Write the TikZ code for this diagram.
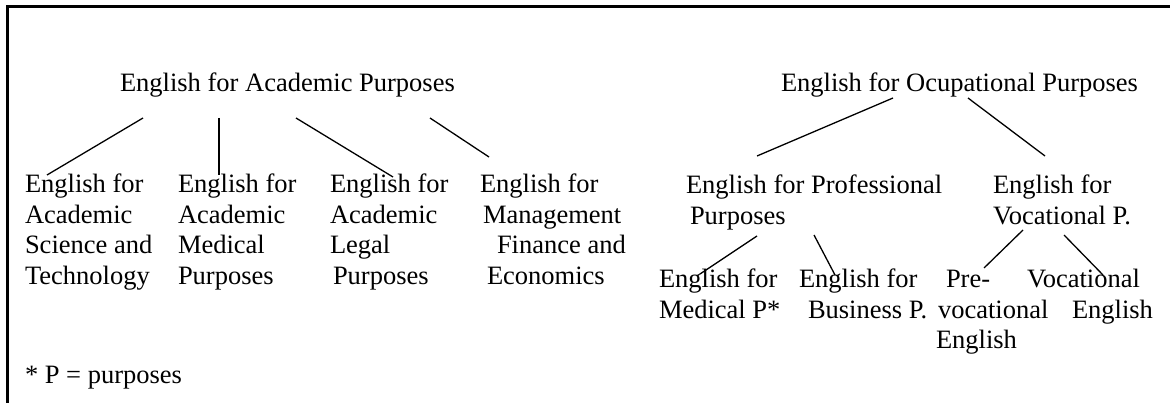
\documentclass[tikz,border=0pt]{standalone}
\usepackage{fontspec}
\setmainfont{Liberation Serif}
\newcommand\mytab[1]{\begin{tabular}[t]{@{}l@{}}#1\end{tabular}}
\begin{document}
\begin{tikzpicture}[x=1pt,y=-1pt,
  lbl/.style={anchor=base west, inner sep=0pt, outer sep=0pt, font=\fontsize{26.5}{30.5}\selectfont},
  link/.style={line width=1.3pt, line cap=butt}]
\useasboundingbox (0,0) rectangle (1170,403);
% frame
\draw[line width=2.2pt, line join=miter] (7.5,403) -- (7.5,6.5) -- (1170,6.5);
% nodes
\node[lbl] (eap) at (120,92) {English for Academic Purposes};
\node[lbl] (eop) at (781,92) {English for Ocupational Purposes};
\node[lbl] (c1) at (25,193) {\mytab{English for\\Academic\\Science and\\Technology}};
\node[lbl] (c2) at (178,193) {\mytab{English for\\Academic\\Medical\\Purposes}};
\node[lbl] (c3) at (330,193) {\mytab{English for\\Academic\\Legal\\\hspace*{3pt}Purposes}};
\node[lbl] (c4) at (480,193) {\mytab{English for\\\hspace*{3pt}Management\\\hspace*{17pt}Finance and\\\hspace*{7pt}Economics}};
\node[lbl] (prof) at (686,194) {\mytab{English for Professional\\\hspace*{4pt}Purposes}};
\node[lbl] (voc) at (993,194) {\mytab{English for\\Vocational P.}};
\node[lbl] (med) at (659,288) {\mytab{English for\\Medical P*}};
\node[lbl] (bus) at (799,288) {\mytab{English for\\\hspace*{9pt}Business P.}};
\node[lbl] (pre) at (936,288) {\mytab{\hspace*{10pt}Pre-\\\hspace*{2pt}vocational\\English}};
\node[lbl] (voce) at (1027,288) {\mytab{Vocational\\\hspace*{45pt}English}};
\node[lbl] (note) at (25,383) {* P = purposes};
% connectors
\draw[link] ([shift={(23,26)}]eap.base west) -- ([shift={(22,-18)}]c1.base west);
\draw[link] ([shift={(99,26)}]eap.base west) -- ([shift={(41,-18)}]c2.base west);
\draw[link] ([shift={(176,26)}]eap.base west) -- ([shift={(63,-16)}]c3.base west);
\draw[link] ([shift={(310,26)}]eap.base west) -- ([shift={(9,-36)}]c4.base west);
\draw[link] ([shift={(112,6)}]eop.base west) -- ([shift={(71,-38)}]prof.base west);
\draw[link] ([shift={(187,6)}]eop.base west) -- ([shift={(52,-38)}]voc.base west);
\draw[link] ([shift={(71,42)}]prof.base west) -- ([shift={(41,-14)}]med.base west);
\draw[link] ([shift={(128,41)}]prof.base west) -- ([shift={(36,-13)}]bus.base west);
\draw[link] ([shift={(30,36)}]voc.base west) -- ([shift={(48,-20)}]pre.base west);
\draw[link] ([shift={(71,41)}]voc.base west) -- ([shift={(76,-13)}]voce.base west);
\end{tikzpicture}
\end{document}
